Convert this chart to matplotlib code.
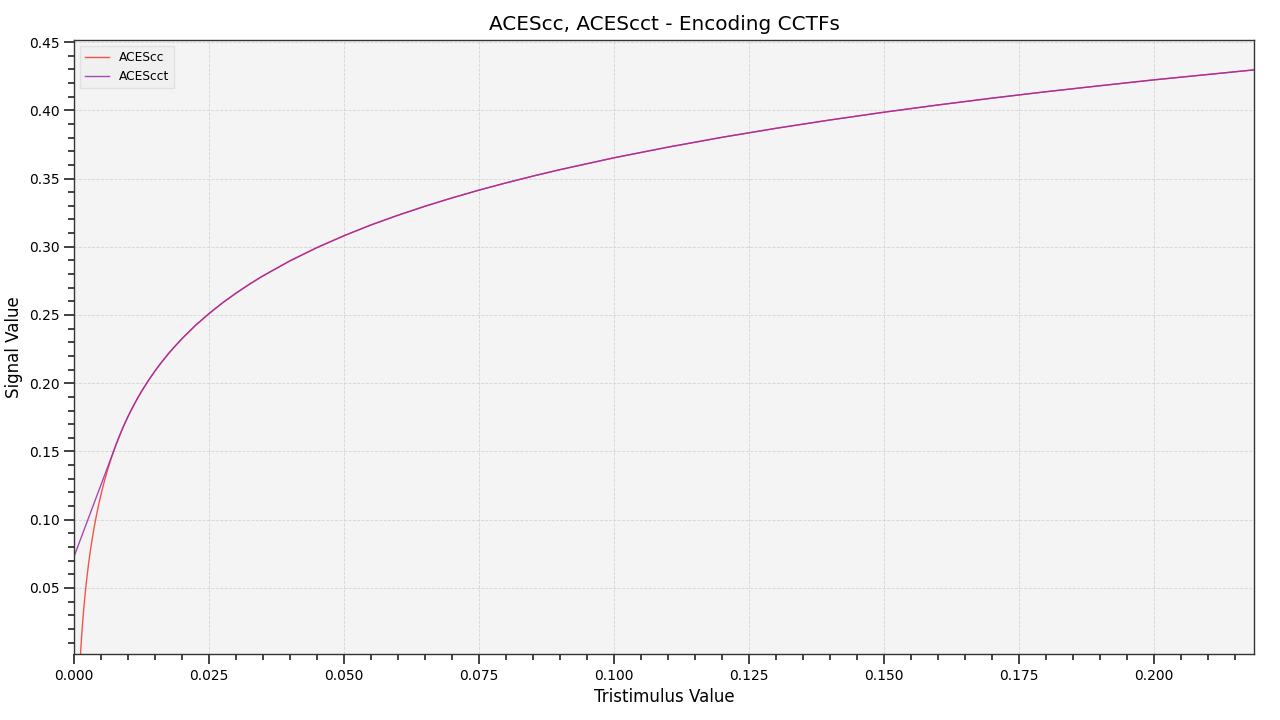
import matplotlib
matplotlib.use("Agg")
import matplotlib.pyplot as plt
from matplotlib.ticker import MultipleLocator, FormatStrFormatter

# Tristimulus values and signal values
x_cc = [0.0010, 0.0012, 0.0013, 0.0014, 0.0015, 0.0017, 0.0018, 0.0020, 0.0022, 0.0025,
        0.0027, 0.0030, 0.0035, 0.0040, 0.0045, 0.0050, 0.0055, 0.0060, 0.0065, 0.0070,
        0.0078, 0.0085, 0.0090, 0.0095, 0.0100, 0.0105, 0.0110, 0.0115, 0.0120, 0.0125,
        0.0135, 0.0140, 0.0150, 0.0160, 0.0165, 0.0175, 0.0180, 0.0190, 0.0200, 0.0225,
        0.0250, 0.0275, 0.0300, 0.0325, 0.0350, 0.0400, 0.0450, 0.0500, 0.0550, 0.0600,
        0.0650, 0.0700, 0.0750, 0.0800, 0.0850, 0.0900, 0.1000, 0.1100, 0.1200, 0.1300,
        0.1400, 0.1500, 0.1600, 0.1700, 0.1800, 0.1900, 0.2000, 0.2185]
y_cc = [-0.0140, 0.0010, 0.0076, 0.0137, 0.0194, 0.0297, 0.0344, 0.0431, 0.0509, 0.0614,
        0.0678, 0.0764, 0.0891, 0.1001, 0.1098, 0.1185, 0.1264, 0.1335, 0.1401, 0.1462,
        0.1552, 0.1622, 0.1669, 0.1714, 0.1756, 0.1796, 0.1834, 0.1871, 0.1906, 0.1940,
        0.2003, 0.2033, 0.2090, 0.2143, 0.2168, 0.2217, 0.2240, 0.2284, 0.2327, 0.2424,
        0.2510, 0.2589, 0.2660, 0.2726, 0.2787, 0.2897, 0.2994, 0.3081, 0.3160, 0.3231,
        0.3297, 0.3358, 0.3415, 0.3468, 0.3518, 0.3565, 0.3652, 0.3730, 0.3802, 0.3868,
        0.3929, 0.3986, 0.4039, 0.4089, 0.4136, 0.4180, 0.4223, 0.4296]

x_cct = [0.0000, 0.0020, 0.0040, 0.0060, 0.0078, 0.0085, 0.0090, 0.0095, 0.0100, 0.0105,
         0.0110, 0.0115, 0.0120, 0.0125, 0.0135, 0.0140, 0.0150, 0.0160, 0.0165, 0.0175,
         0.0180, 0.0190, 0.0200, 0.0225, 0.0250, 0.0275, 0.0300, 0.0325, 0.0350, 0.0400,
         0.0450, 0.0500, 0.0550, 0.0600, 0.0650, 0.0700, 0.0750, 0.0800, 0.0850, 0.0900,
         0.1000, 0.1100, 0.1200, 0.1300, 0.1400, 0.1500, 0.1600, 0.1700, 0.1800, 0.1900,
         0.2000, 0.2185]
y_cct = [0.0729, 0.0940, 0.1151, 0.1361, 0.1552, 0.1622, 0.1669, 0.1714, 0.1756, 0.1796,
         0.1834, 0.1871, 0.1906, 0.1940, 0.2003, 0.2033, 0.2090, 0.2143, 0.2168, 0.2217,
         0.2240, 0.2284, 0.2327, 0.2424, 0.2510, 0.2589, 0.2660, 0.2726, 0.2787, 0.2897,
         0.2994, 0.3081, 0.3160, 0.3231, 0.3297, 0.3358, 0.3415, 0.3468, 0.3518, 0.3565,
         0.3652, 0.3730, 0.3802, 0.3868, 0.3929, 0.3986, 0.4039, 0.4089, 0.4136, 0.4180,
         0.4223, 0.4296]

fig = plt.figure(figsize=(12.8, 7.2), dpi=100)
ax = fig.add_axes([74/1280, 1 - 654/720, 1180/1280, 614/720])
ax.set_facecolor("#f4f4f4")

ax.plot(x_cc, y_cc, color="#F44336", lw=1.0, label="ACEScc", alpha=0.9)
ax.plot(x_cct, y_cct, color="#9C27B0", lw=1.0, label="ACEScct", alpha=0.85)

ax.set_xlim(0, 0.2185)
ax.set_ylim(0.0016, 0.4515)
ax.xaxis.set_major_locator(MultipleLocator(0.025))
ax.xaxis.set_minor_locator(MultipleLocator(0.005))
ax.yaxis.set_major_locator(MultipleLocator(0.05))
ax.yaxis.set_minor_locator(MultipleLocator(0.01))
ax.xaxis.set_major_formatter(FormatStrFormatter("%.3f"))
ax.yaxis.set_major_formatter(FormatStrFormatter("%.2f"))
ax.tick_params(which="major", direction="out", length=7, width=1.2, labelsize=10, color="#222222")
ax.tick_params(which="minor", direction="out", length=4, width=1.2, color="#222222")
ax.grid(True, which="major", linestyle="--", linewidth=0.6, color="#d4d4d4")
ax.set_axisbelow(True)
for s in ax.spines.values():
    s.set_color("#333333")
    s.set_linewidth(1.0)

ax.set_title("ACEScc, ACEScct - Encoding CCTFs", fontsize=14.4, pad=7)
ax.set_xlabel("Tristimulus Value", fontsize=12, labelpad=4)
ax.set_ylabel("Signal Value", fontsize=12, labelpad=4)
leg = ax.legend(loc="upper left", fontsize=8.8, frameon=True, fancybox=False)
leg.get_frame().set_facecolor("#f0f0f0")
leg.get_frame().set_edgecolor("#dddddd")

fig.savefig("out.png", dpi=100)
